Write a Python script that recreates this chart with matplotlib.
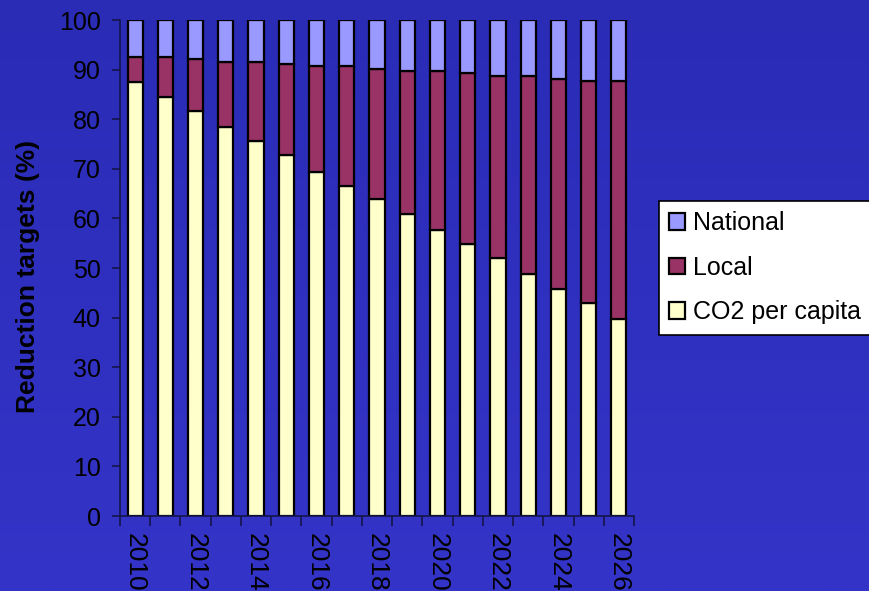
import numpy as np
import matplotlib
matplotlib.use("Agg")
import matplotlib.pyplot as plt

years = list(range(2010, 2027))
co2 = [87.4, 84.5, 81.7, 78.5, 75.6, 72.8, 69.4, 66.6, 63.9,
       60.9, 57.7, 54.8, 52.1, 48.7, 45.8, 43.0, 39.8]
# parte alta de "Local" (CO2 + Local)
local_top = [92.6, 92.6, 92.1, 91.6, 91.6, 91.1, 90.7, 90.7, 90.1,
             89.7, 89.7, 89.3, 88.8, 88.8, 88.2, 87.8, 87.8]
total = 100.0

local = [t - c for t, c in zip(local_top, co2)]
national = [total - t for t in local_top]

plt.rcParams['font.family'] = ['Liberation Sans', 'DejaVu Sans']

fig = plt.figure(figsize=(8.69, 5.91), dpi=100)

# fondo con degradado
bg = fig.add_axes([0, 0, 1, 1], zorder=-10)
grad = np.linspace(0, 1, 256).reshape(-1, 1)
cmap = matplotlib.colors.LinearSegmentedColormap.from_list("bg", ["#2a2cb6", "#3434c8"])
bg.imshow(grad, aspect="auto", cmap=cmap, extent=[0, 1, 0, 1], origin="upper")
bg.axis("off")

ax = fig.add_axes([120 / 869, 75 / 591, 514 / 869, 496 / 591])
ax.patch.set_visible(False)

x = np.arange(len(years))
w = 0.5
ec = "black"
lw = 1.6
b1 = ax.bar(x, co2, w, color="#ffffcc", edgecolor=ec, linewidth=lw, label="CO2 per capita")
b2 = ax.bar(x, local, w, bottom=co2, color="#993366", edgecolor=ec, linewidth=lw, label="Local")
b3 = ax.bar(x, national, w, bottom=local_top, color="#9999ff", edgecolor=ec, linewidth=lw, label="National")

ax.set_xlim(-0.5, len(years) - 0.5)
ax.set_ylim(0, 100)
ax.set_yticks(range(0, 101, 10))
ax.tick_params(axis="y", labelsize=18, length=6, width=1.2, color="#15154a", pad=8)

ax.set_xticks(x[::2])
ax.set_xticklabels([str(y) for y in years[::2]], rotation=270, fontsize=19)
ax.set_xticks(np.arange(-0.5, len(years), 1), minor=True)
ax.tick_params(axis="x", which="major", length=0, pad=12)
ax.tick_params(axis="x", which="minor", length=7, width=1.2, color="#15154a")

for s in ["top", "right"]:
    ax.spines[s].set_visible(False)
for s in ["left", "bottom"]:
    ax.spines[s].set_color("#15154a")
    ax.spines[s].set_linewidth(1.2)

ax.set_ylabel("Reduction targets (%)", fontsize=19, fontweight="bold")
ax.yaxis.set_label_coords(-0.155, 0.483)

leg = fig.legend([b3, b2, b1], ["National", "Local", "CO2 per capita"],
                 loc="upper left", bbox_to_anchor=(659 / 869, 1 - 201 / 591),
                 fontsize=18, frameon=True, fancybox=False, framealpha=1,
                 edgecolor="black", handlelength=0.65, handleheight=0.65,
                 handletextpad=0.3, labelspacing=0.83, borderpad=0.4,
                 borderaxespad=0)
leg.get_frame().set_linewidth(1.2)

fig.savefig("out.png", dpi=100)
